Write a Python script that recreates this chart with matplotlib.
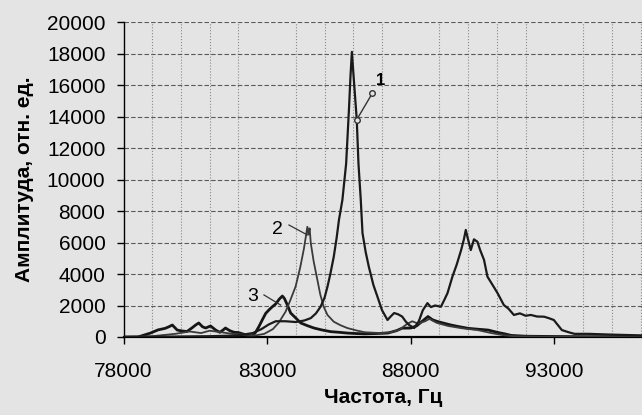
import matplotlib
matplotlib.use('Agg')
import matplotlib.pyplot as plt
from matplotlib.ticker import MultipleLocator

plt.rcParams['font.family'] = ['Liberation Sans', 'DejaVu Sans']

# curve 1: main resonance at ~86 kHz plus broad band near 90 kHz
freq1 = [78000, 79500, 81000, 82000, 82500, 82800, 83060, 83300, 83640, 84000,
         84300, 84520, 84700, 84860, 85000, 85100, 85200, 85320, 85420, 85500,
         85620, 85750, 85850, 85900, 85950, 86000, 86120, 86180, 86260, 86320,
         86430, 86540, 86700, 86840, 87000, 87190, 87300, 87420, 87550, 87700,
         87830, 87950, 88120, 88280, 88420, 88580, 88700, 88850, 89050, 89180,
         89280, 89450, 89600, 89750, 89850, 89916, 89980, 90090, 90200, 90320,
         90420, 90550, 90670, 90850, 91020, 91240, 91400, 91590, 91800, 92000,
         92180, 92400, 92640, 92800, 92980, 93260, 93500, 93700, 94200, 95000, 96100]
amp1 = [0, 20, 50, 100, 250, 500, 800, 1000, 1000, 950,
        1050, 1200, 1500, 1920, 2500, 3190, 4000, 5100, 6300, 7430,
        8700, 11000, 14500, 16500, 18100, 16800, 13800, 11000, 8700, 6600,
        5400, 4460, 3300, 2560, 1700, 1080, 1300, 1520, 1450, 1300,
        970, 750, 570, 1000, 1700, 2150, 1900, 2000, 1920, 2400,
        2790, 3830, 4600, 5500, 6200, 6800, 6300, 5520, 6200, 6050,
        5500, 4900, 3830, 3300, 2790, 2030, 1800, 1400, 1500, 1350,
        1400, 1300, 1290, 1200, 1080, 440, 300, 200, 200, 150, 100]

# curve 2: resonance at ~84.4 kHz
freq2 = [78000, 79000, 79800, 80300, 80700, 81000, 81400, 81800, 82200, 82600,
         82900, 83200, 83400, 83640, 83800, 83990, 84150, 84280, 84350, 84400,
         84440, 84480, 84520, 84620, 84750, 84850, 84970, 85100, 85320, 85550,
         85790, 86100, 86400, 86950, 87300, 87600, 87850, 88050, 88250, 88500,
         88650, 88900, 89300, 89800, 90300, 90800, 91200, 91600, 92500, 94000, 96100]
amp2 = [0, 50, 200, 350, 250, 400, 300, 200, 150, 100,
        200, 500, 900, 1600, 2300, 3200, 4400, 5600, 6400, 7000,
        6500, 6900, 5960, 4800, 3620, 2700, 1920, 1400, 970, 750,
        570, 420, 300, 250, 300, 450, 800, 1000, 850, 1000,
        1150, 900, 700, 550, 450, 250, 120, 50, 20, 0, 0]

# curve 3: weak resonance at ~83.5 kHz, noisy low band
freq3 = [78000, 78500, 78940, 79200, 79450, 79580, 79700, 79870, 80050, 80210,
         80400, 80510, 80620, 80750, 80860, 81030, 81210, 81350, 81450, 81550,
         81700, 81850, 82000, 82150, 82300, 82480, 82600, 82710, 82830, 82950,
         83080, 83180, 83300, 83420, 83530, 83600, 83700, 83820, 84000, 84170,
         84400, 84630, 84900, 85210, 85500, 85790, 86100, 86400, 86800, 87200,
         87500, 87700, 88000, 88200, 88400, 88600, 88750, 88900, 89100, 89400,
         89700, 90000, 90300, 90700, 91000, 91270, 91500, 92000, 93000, 94000, 95000, 96100]
amp3 = [0, 0, 250, 450, 550, 650, 760, 440, 380, 350,
        600, 760, 890, 650, 570, 700, 440, 300, 420, 570,
        400, 300, 280, 200, 100, 50, 300, 650, 1080, 1500,
        1750, 1920, 2100, 2400, 2600, 2450, 2050, 1520, 1200, 890,
        720, 570, 450, 340, 300, 250, 220, 200, 220, 250,
        400, 560, 570, 700, 1000, 1300, 1100, 1000, 900, 760,
        650, 550, 500, 440, 300, 200, 100, 50, 30, 20, 20, 20]

xticks = [78000, 83000, 88000, 93000]
bg = '#e4e4e4'

fig = plt.figure(figsize=(6.42, 4.15), dpi=100, facecolor=bg)
ax = fig.add_axes([123.5 / 642, 1 - 337 / 415, (642 - 123.5) / 642, 315 / 415])
ax.set_facecolor(bg)

ax.plot(freq3, amp3, color='#151515', lw=2.0, zorder=3)
ax.plot(freq2, amp2, color='#3a3a3a', lw=1.3, zorder=3)
ax.plot(freq1, amp1, color='#1a1a1a', lw=1.6, zorder=4)

ax.set_xlim(78000, 96050)
ax.set_ylim(0, 20000)
ax.set_xticks(xticks)
ax.xaxis.set_minor_locator(MultipleLocator(1000))
ax.yaxis.set_major_locator(MultipleLocator(2000))

ax.grid(axis='y', which='major', color='#5a5a5a', ls=(0, (4, 2)), lw=0.8, zorder=1)
ax.grid(axis='x', which='minor', color='#8a8a8a', ls=':', lw=0.8, zorder=1)

for s in ['top', 'right']:
    ax.spines[s].set_visible(False)
ax.spines['left'].set_linewidth(1.0)
ax.spines['bottom'].set_linewidth(1.6)

ax.tick_params(axis='y', length=5, width=1, pad=8, labelsize=15)
ax.tick_params(axis='x', which='major', length=5, width=1, pad=13, labelsize=15)
ax.tick_params(axis='x', which='minor', length=0)

ax.set_xlabel('Частота, Гц', fontsize=15, fontweight='bold', labelpad=5)
ax.set_ylabel('Амплитуда, отн. ед.', fontsize=15, fontweight='bold', labelpad=9)

# curve labels with leader lines
ax.plot([86120, 86660], [13800, 15470], color='#333333', lw=1.0,
        marker='o', ms=4, mfc=bg, mec='#333333', zorder=5)
ax.text(86950, 16300, '1', fontsize=12, fontweight='bold', ha='center', va='center')
ax.plot([83760, 84400], [7110, 6480], color='#333333', lw=0.9, zorder=5)
ax.text(83350, 6800, '2', fontsize=14, ha='center', va='center')
ax.plot([82890, 83470], [2670, 2030], color='#333333', lw=0.9, zorder=5)
ax.text(82490, 2560, '3', fontsize=14, ha='center', va='center')

fig.savefig('out.png', dpi=100, facecolor=bg)
